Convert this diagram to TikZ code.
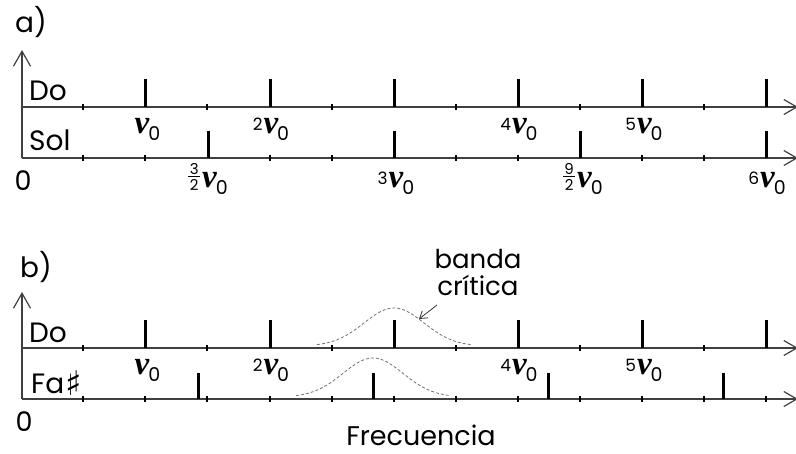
\documentclass[tikz,border=0pt]{standalone}
\usepackage{fontspec}
\setmainfont{Poppins}
\newfontfamily\nufont{Liberation Serif}
\newfontfamily\symfont{DejaVu Sans}
\usetikzlibrary{arrows.meta}
\newcommand\myfs[1]{\fontsize{#1}{#1}\selectfont}
\newcommand\nusym{{\nufont\bfseries\itshape\myfs{33}ν}}
\newcommand\nuz[1]{\raisebox{3pt}{\myfs{17}#1}\kern1pt\nusym\kern-1pt\raisebox{-7pt}{\myfs{19}0}}
\newcommand\frc[2]{\raisebox{-3pt}{\vbox{\hbox to 12pt{\hss\myfs{15}#1\hss}\kern1.5pt\hrule height 1.2pt\kern1.5pt\hbox to 12pt{\hss\myfs{15}#2\hss}}}}
\newcommand\fnuz[2]{\frc{#1}{#2}\kern2pt\nusym\kern-1pt\raisebox{-7pt}{\myfs{19}0}}
\tikzset{
  axisline/.style={draw=black!75, line width=1.2pt},
  vtip/.style={-{Straight Barb[length=15pt,width=17pt]}},
  htip/.style={-{Straight Barb[length=13pt,width=15pt]}},
  bigtick/.style={draw=black, line width=3pt},
  smalltick/.style={draw=black, line width=1.8pt},
  lbl/.style={anchor=base, inner sep=0pt},
  txt/.style={anchor=base west, inner sep=0pt, font=\myfs{28}},
  gauss/.style={draw=black!55, line width=0.8pt, dash pattern=on 3pt off 2pt},
}
\begin{document}
\begin{tikzpicture}[x=1pt,y=-1pt]
\useasboundingbox (0,0) rectangle (796,453);
% ---------- panel a ----------
\node[txt] (ta) at (15,32) {a)};
\coordinate (aO) at (22,158);
\coordinate (aTop) at (22,50);
\coordinate (aDoS) at (22,107);
\coordinate (aDoE) at (798,107);
\coordinate (aSolS) at (22,158);
\coordinate (aSolE) at (798,158);
\draw[axisline, htip] (aDoS) -- (aDoE);
\draw[axisline, htip] (aSolS) -- (aSolE);
\draw[axisline, vtip] (aO) -- (aTop);
\foreach \x in {145,270,394,518,642,766} \draw[bigtick] (\x,107) -- (\x,79);
\foreach \x in {83,207,332,456,580,704} \draw[smalltick] (\x,104) -- (\x,110);
\foreach \x in {208,394,580,766} \draw[bigtick] (\x,158) -- (\x,131);
\foreach \x in {83,145,270,332,456,518,642,704} \draw[smalltick] (\x,155) -- (\x,161);
\node[txt] (aDo) at (29,100) {Do};
\node[txt] (aSol) at (29,150) {Sol};
\node[inner sep=0pt, font=\myfs{27}] (aZero) at (23,181) {0};
\node[lbl] (an1) at (147,133) {\nuz{}};
\node[lbl] (an2) at (271,133) {\nuz{2}};
\node[lbl] (an4) at (519,133) {\nuz{4}};
\node[lbl] (an5) at (644,133) {\nuz{5}};
\node[lbl] (as1) at (208,187) {\fnuz{3}{2}};
\node[lbl] (as2) at (396,187) {\nuz{3}};
\node[lbl] (as3) at (583,187) {\fnuz{9}{2}};
\node[lbl] (as4) at (767,187) {\nuz{6}};
% ---------- panel b ----------
\node[txt] (tb) at (20,277) {b)};
\coordinate (bO) at (22,399);
\coordinate (bTop) at (22,292);
\coordinate (bDoS) at (22,348);
\coordinate (bDoE) at (798,348);
\coordinate (bFaS) at (22,399);
\coordinate (bFaE) at (798,399);
\draw[axisline, htip] (bDoS) -- (bDoE);
\draw[axisline, htip] (bFaS) -- (bFaE);
\draw[axisline, vtip] (bO) -- (bTop);
\foreach \x in {145,270,394,518,642,766} \draw[bigtick] (\x,348) -- (\x,320);
\foreach \x in {83,207,332,456,580,704} \draw[smalltick] (\x,345) -- (\x,351);
\foreach \x in {198,373,548,723} \draw[bigtick] (\x,399) -- (\x,373);
\foreach \x in {83,145,207,270,332,394,456,518,580,642,704,766} \draw[smalltick] (\x,396) -- (\x,402);
\node[txt] (bDo) at (29,342) {Do};
\node[txt] (bFa) at (31,393) {Fa\kern1pt\raisebox{-2pt}{\symfont\bfseries\myfs{34}♯}};
\node[inner sep=0pt, font=\myfs{27}] (bZero) at (24,422) {0};
\node[lbl] (bn1) at (147,374) {\nuz{}};
\node[lbl] (bn2) at (271,374) {\nuz{2}};
\node[lbl] (bn4) at (519,374) {\nuz{4}};
\node[lbl] (bn5) at (644,374) {\nuz{5}};
% critical bands
\draw[gauss, domain=-77:77, samples=80, smooth] plot ({394+\x}, {346-38*exp(-(\x/30)*(\x/30)/2)});
\draw[gauss, domain=-77:77, samples=80, smooth] plot ({373+\x}, {397-39*exp(-(\x/30)*(\x/30)/2)});
\node[anchor=base, inner sep=0pt, font=\myfs{26}] (banda) at (478,268) {banda};
\node[anchor=base, inner sep=0pt, font=\myfs{26}] (critica) at (478,295) {crítica};
\coordinate (annT) at (437,305);
\coordinate (annH) at (419,319);
\draw[line width=0.8pt, black!80, -{Straight Barb[length=7pt,width=9pt]}] (annT) -- (annH);
\node[anchor=base, inner sep=0pt, font=\myfs{27}] (freq) at (421,445) {Frecuencia};
\end{tikzpicture}
\end{document}
